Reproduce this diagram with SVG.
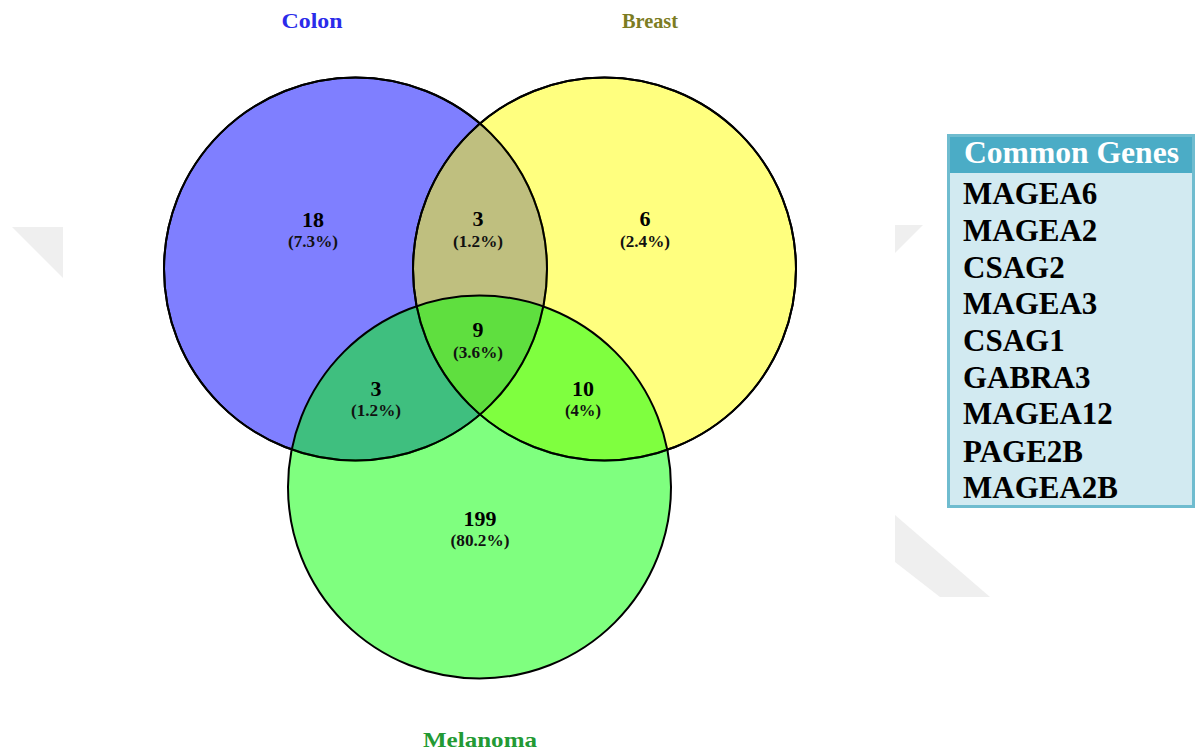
<svg xmlns="http://www.w3.org/2000/svg" width="1196" height="751" viewBox="0 0 1196 751">
<style>
.c{stroke:#000;stroke-width:2;fill-opacity:0.5}
.n{font-family:"Liberation Serif",serif;font-weight:bold;font-size:22px;text-anchor:middle;fill:#000}
.p{font-family:"Liberation Serif",serif;font-weight:bold;font-size:16px;text-anchor:middle;fill:#111}
.t{font-family:"Liberation Serif",serif;font-weight:bold;font-size:22px;text-anchor:middle}
.g{font-family:"Liberation Serif",serif;font-weight:bold;font-size:31px;fill:#000}
.wm{fill:#efefef}
</style>
<rect width="1196" height="751" fill="#fff"/>
<g id="watermark">
<polygon class="wm" points="12,227 63,227 63,278"/>
<polygon class="wm" points="895,225 923,225 895,253"/>
<polygon class="wm" points="895,515 990,597 940,597 895,562"/>
</g>
<g id="colon"><circle class="c" cx="355.5" cy="269" r="191.5" fill="#0000ff"/></g>
<g id="breast"><circle class="c" cx="604.5" cy="269" r="191.5" fill="#ffff00"/></g>
<g id="melanoma"><circle class="c" cx="479.5" cy="487" r="191.5" fill="#00ff00"/></g>
<g id="outlines" fill="none" stroke="#000" stroke-width="2">
<circle cx="355.5" cy="269" r="191.5"/>
<circle cx="604.5" cy="269" r="191.5"/>
</g>
<g id="titles">
<text class="t" x="312" y="28" fill="#2b2bea" textLength="61" lengthAdjust="spacingAndGlyphs">Colon</text>
<text class="t" x="650" y="28" fill="#7c7c22" textLength="56" lengthAdjust="spacingAndGlyphs">Breast</text>
<text class="t" x="480" y="747" fill="#239a34" textLength="114" lengthAdjust="spacingAndGlyphs">Melanoma</text>
</g>
<g id="labels">
<text class="n" x="313" y="227">18</text><text class="p" x="313" y="247" textLength="50" lengthAdjust="spacingAndGlyphs">(7.3%)</text>
<text class="n" x="478" y="226">3</text><text class="p" x="478" y="247" textLength="50" lengthAdjust="spacingAndGlyphs">(1.2%)</text>
<text class="n" x="645" y="226">6</text><text class="p" x="645" y="247" textLength="50" lengthAdjust="spacingAndGlyphs">(2.4%)</text>
<text class="n" x="478" y="337">9</text><text class="p" x="478" y="358" textLength="50" lengthAdjust="spacingAndGlyphs">(3.6%)</text>
<text class="n" x="376" y="396">3</text><text class="p" x="376" y="416" textLength="50" lengthAdjust="spacingAndGlyphs">(1.2%)</text>
<text class="n" x="583" y="396">10</text><text class="p" x="583" y="416" textLength="36" lengthAdjust="spacingAndGlyphs">(4%)</text>
<text class="n" x="480" y="526">199</text><text class="p" x="480" y="546" textLength="59" lengthAdjust="spacingAndGlyphs">(80.2%)</text>
</g>
<g id="common-genes">
<rect x="948.5" y="135.5" width="245" height="371" fill="#d2eaf1" stroke="#6fbccf" stroke-width="3"/>
<rect x="950" y="137" width="242" height="36" fill="#4bacc6"/>
<text class="g" x="964" y="163" style="fill:#fff" textLength="215" lengthAdjust="spacingAndGlyphs">Common Genes</text>
<text class="g" x="963" y="204">MAGEA6</text>
<text class="g" x="963" y="241">MAGEA2</text>
<text class="g" x="963" y="278">CSAG2</text>
<text class="g" x="963" y="314">MAGEA3</text>
<text class="g" x="963" y="351">CSAG1</text>
<text class="g" x="963" y="388">GABRA3</text>
<text class="g" x="963" y="424">MAGEA12</text>
<text class="g" x="963" y="462">PAGE2B</text>
<text class="g" x="963" y="498">MAGEA2B</text>
</g>
</svg>
